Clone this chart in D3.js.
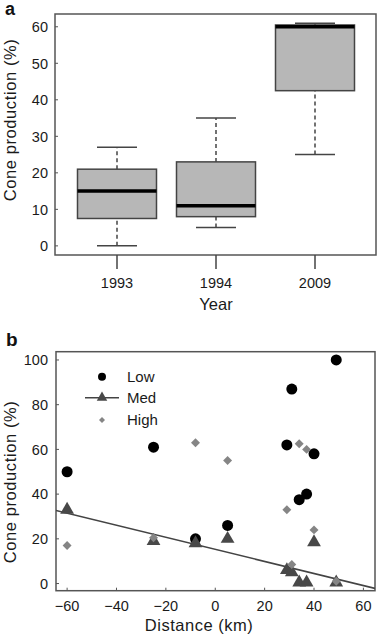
<!DOCTYPE html>
<html>
<head>
<meta charset="utf-8">
<script src="https://cdn.jsdelivr.net/npm/d3@7"></script>
<style>
  body { margin: 0; background: #fff; }
  svg { display: block; font-family: "Liberation Sans", Arial, sans-serif; }
</style>
</head>
<body>
<svg width="378" height="636"></svg>
<script>
// Panel a: box plot of cone production by year
const years = ["1993", "1994", "2009"];
const whiskerLow = [0, 5, 25];
const q1 = [7.5, 8, 42.5];
const medians = [15, 11, 60];
const q3 = [21, 23, 60.5];
const whiskerHigh = [27, 35, 61];
const yTicksA = [0, 10, 20, 30, 40, 50, 60];

// Panel b: cone production vs distance
const lowX = [-60, -25, -8, 5, 29, 31, 34, 37, 40, 49];
const lowY = [50, 61, 20, 26, 62, 87, 37.5, 40, 58, 100];
const medX = [-60, -25, -8, 5, 29, 31, 34, 37, 40, 49];
const medY = [33, 19, 18, 20, 6, 5, 0.5, 0.5, 18.5, 0.5];
const highX = [-60, -25, -8, 5, 29, 31, 34, 37, 40, 49];
const highY = [17, 20.5, 63, 55, 33, 8.5, 62.5, 60, 24, 1];
const fitIntercept = 15.3, fitSlope = -0.27; // fitted line for Med
const xTicksB = [-60, -40, -20, 0, 20, 40, 60];
const yTicksB = [0, 20, 40, 60, 80, 100];

const svg = d3.select("svg");
const frame = "#555";
const ink = "#1a1a1a";

// ---------- panel a ----------
const ax = d3.scalePoint().domain(years).range([117, 315]);
const ay = d3.scaleLinear().domain([-2.5, 63.5]).range([255, 14]);
const boxW = 79, capW = 40;

const ga = svg.append("g");
ga.append("rect")
  .attr("x", 55).attr("y", 14).attr("width", 321).attr("height", 241)
  .attr("fill", "none").attr("stroke", frame).attr("stroke-width", 1.5);

// y ticks (inward) and labels
yTicksA.forEach(t => {
  ga.append("line").attr("x1", 55).attr("x2", 58).attr("y1", ay(t)).attr("y2", ay(t))
    .attr("stroke", frame).attr("stroke-width", 1);
  ga.append("text").attr("x", 48).attr("y", ay(t)).attr("dy", "0.36em")
    .attr("text-anchor", "end").style("font-size", "14.5px").attr("fill", ink).text(t);
});

// x ticks (outside) and labels
years.forEach(yr => {
  ga.append("line").attr("x1", ax(yr)).attr("x2", ax(yr)).attr("y1", 255).attr("y2", 269)
    .attr("stroke", "#444").attr("stroke-width", 1.5);
  ga.append("text").attr("x", ax(yr)).attr("y", 288).attr("text-anchor", "middle")
    .style("font-size", "14.5px").attr("fill", ink).text(yr);
});

ga.append("text").attr("x", 216).attr("y", 310).attr("text-anchor", "middle")
  .style("font-size", "16.5px").attr("fill", ink).text("Year");
ga.append("text").attr("transform", "translate(16,120) rotate(-90)")
  .attr("text-anchor", "middle").style("font-size", "16.5px").style("letter-spacing", "0.6px")
  .attr("fill", ink).text("Cone production (%)");
ga.append("text").attr("x", 5).attr("y", 15).style("font-size", "18px").style("font-weight", "bold")
  .attr("fill", "#111").text("a");

years.forEach((yr, i) => {
  const cx = ax(yr);
  // whiskers
  ga.append("line").attr("x1", cx).attr("x2", cx).attr("y1", ay(whiskerLow[i])).attr("y2", ay(q1[i]))
    .attr("stroke", "#444").attr("stroke-width", 1.5).attr("stroke-dasharray", "4,3");
  ga.append("line").attr("x1", cx).attr("x2", cx).attr("y1", ay(q3[i])).attr("y2", ay(whiskerHigh[i]))
    .attr("stroke", "#444").attr("stroke-width", 1.5).attr("stroke-dasharray", "4,3");
  [whiskerLow[i], whiskerHigh[i]].forEach(v => {
    ga.append("line").attr("x1", cx - capW / 2).attr("x2", cx + capW / 2).attr("y1", ay(v)).attr("y2", ay(v))
      .attr("stroke", "#444").attr("stroke-width", 1.5);
  });
  // box
  ga.append("rect").attr("x", cx - boxW / 2).attr("y", ay(q3[i]))
    .attr("width", boxW).attr("height", ay(q1[i]) - ay(q3[i]))
    .attr("fill", "#b7b7b7").attr("stroke", "#444").attr("stroke-width", 1.5);
  ga.append("line").attr("x1", cx - boxW / 2).attr("x2", cx + boxW / 2).attr("y1", ay(medians[i])).attr("y2", ay(medians[i]))
    .attr("stroke", "#000").attr("stroke-width", 3.5);
});

// ---------- panel b ----------
const bx = d3.scaleLinear().domain([-64.5, 64.7]).range([56, 375]);
const by = d3.scaleLinear().domain([-3.2, 103.7]).range([590.7, 351.7]);

const gb = svg.append("g");
gb.append("clipPath").attr("id", "clipb").append("rect")
  .attr("x", 56).attr("y", 351.7).attr("width", 319).attr("height", 239);

gb.append("rect")
  .attr("x", 56).attr("y", 351.7).attr("width", 319).attr("height", 239)
  .attr("fill", "none").attr("stroke", frame).attr("stroke-width", 1.5);

yTicksB.forEach(t => {
  gb.append("line").attr("x1", 56).attr("x2", 59).attr("y1", by(t)).attr("y2", by(t))
    .attr("stroke", frame).attr("stroke-width", 1);
  gb.append("text").attr("x", 48).attr("y", by(t)).attr("dy", "0.36em")
    .attr("text-anchor", "end").style("font-size", "14.5px").attr("fill", ink).text(t);
});
xTicksB.forEach(t => {
  gb.append("line").attr("x1", bx(t)).attr("x2", bx(t)).attr("y1", 590.7).attr("y2", 587.7)
    .attr("stroke", frame).attr("stroke-width", 1);
  gb.append("text").attr("x", bx(t)).attr("y", 611).attr("text-anchor", "middle")
    .style("font-size", "14.5px").attr("fill", ink).text(t < 0 ? "\u2212" + Math.abs(t) : t);
});

gb.append("text").attr("x", 199).attr("y", 631).attr("text-anchor", "middle")
  .style("font-size", "16.5px").style("letter-spacing", "0.5px").attr("fill", ink).text("Distance (km)");
gb.append("text").attr("transform", "translate(16,482) rotate(-90)")
  .attr("text-anchor", "middle").style("font-size", "16.5px").style("letter-spacing", "0.6px")
  .attr("fill", ink).text("Cone production (%)");
gb.append("text").attr("x", 6).attr("y", 346).style("font-size", "19px").style("font-weight", "bold")
  .attr("fill", "#111").text("b");

// fitted line
const xd = bx.domain();
gb.append("line").attr("clip-path", "url(#clipb)")
  .attr("x1", bx(xd[0])).attr("y1", by(fitIntercept + fitSlope * xd[0]))
  .attr("x2", bx(xd[1])).attr("y2", by(fitIntercept + fitSlope * xd[1]))
  .attr("stroke", "#444").attr("stroke-width", 1.6);

const tri = d3.symbol().type(d3.symbolTriangle);
const sq = d3.symbol().type(d3.symbolSquare);

// Low
gb.selectAll(".low").data(d3.zip(lowX, lowY)).enter().append("circle")
  .attr("cx", d => bx(d[0])).attr("cy", d => by(d[1])).attr("r", 5.5).attr("fill", "#000");
// Med
gb.selectAll(".med").data(d3.zip(medX, medY)).enter().append("path")
  .attr("d", tri.size(82)).attr("transform", d => `translate(${bx(d[0])},${by(d[1])})`)
  .attr("fill", "#484848");
// High
gb.selectAll(".high").data(d3.zip(highX, highY)).enter().append("path")
  .attr("d", sq.size(40)).attr("transform", d => `translate(${bx(d[0])},${by(d[1])}) rotate(45)`)
  .attr("fill", "#858585");

// legend
const legX = 102, legText = 127;
const legend = gb.append("g");
legend.append("circle").attr("cx", legX).attr("cy", 376.7).attr("r", 4).attr("fill", "#000");
legend.append("line").attr("x1", 85).attr("x2", 119).attr("y1", 397.7).attr("y2", 397.7)
  .attr("stroke", "#444").attr("stroke-width", 1.6);
legend.append("path").attr("d", tri.size(48)).attr("transform", `translate(${legX},397.7)`).attr("fill", "#484848");
legend.append("path").attr("d", sq.size(18)).attr("transform", `translate(${legX},420) rotate(45)`).attr("fill", "#858585");
[["Low", 376.7], ["Med", 397.7], ["High", 420]].forEach(([lab, yy]) => {
  legend.append("text").attr("x", legText).attr("y", yy).attr("dy", "0.36em")
    .style("font-size", "15px").attr("fill", ink).text(lab);
});
</script>
</body>
</html>
